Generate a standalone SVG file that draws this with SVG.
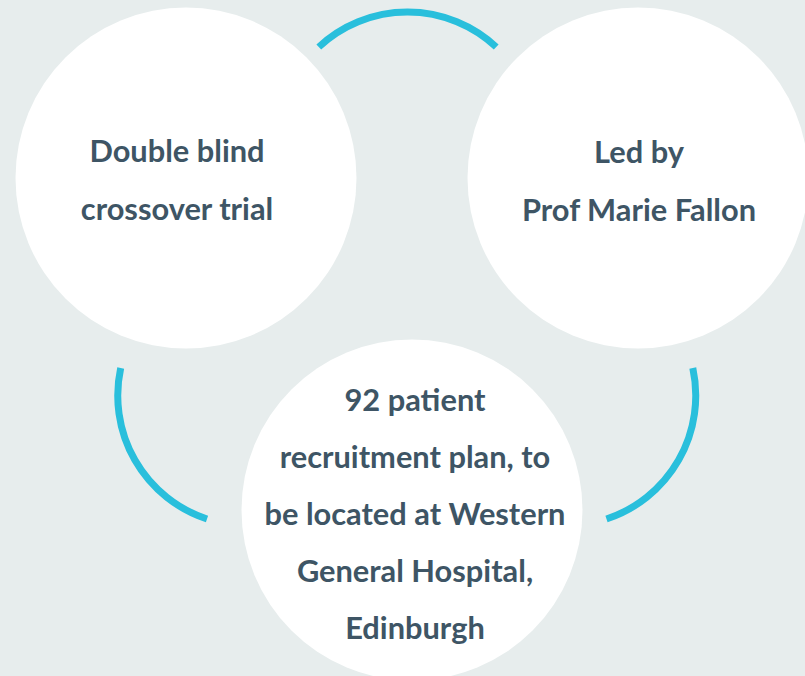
<svg xmlns="http://www.w3.org/2000/svg" width="805" height="676" viewBox="0 0 805 676">
  <style>
    .bg { fill: #e7eded; }
    .node circle { fill: #ffffff; }
    .node text { font-family: Lato, "Liberation Sans", sans-serif; font-weight: 700; font-size: 30.8px; fill: #3e5565; text-anchor: middle; }
    .arc { fill: none; stroke: #29bfdc; stroke-width: 7; stroke-linecap: butt; }
  </style>
  <rect class="bg" x="0" y="0" width="805" height="676"/>
  <g id="node-trial" class="node">
    <circle cx="186" cy="178" r="170.5"/>
    <text x="177" y="162">Double blind</text>
    <text x="177" y="220">crossover trial</text>
  </g>
  <g id="node-lead" class="node">
    <circle cx="638" cy="178" r="170.5"/>
    <text x="639" y="163">Led by</text>
    <text x="639" y="221">Prof Marie Fallon</text>
  </g>
  <g id="node-recruitment" class="node">
    <circle cx="412" cy="510" r="170.5"/>
    <text x="415" y="411">92 patient</text>
    <text x="415" y="468">recruitment plan, to</text>
    <text x="415" y="525">be located at Western</text>
    <text x="415" y="582">General Hospital,</text>
    <text x="415" y="639">Edinburgh</text>
  </g>
  <g id="connectors">
    <path class="arc" d="M318.8,47 A130,130 0 0 1 496.2,47"/>
    <path class="arc" d="M120.7,368 A130,130 0 0 0 207,519"/>
    <path class="arc" d="M692.8,368 A130,130 0 0 1 606.5,519"/>
  </g>
</svg>
